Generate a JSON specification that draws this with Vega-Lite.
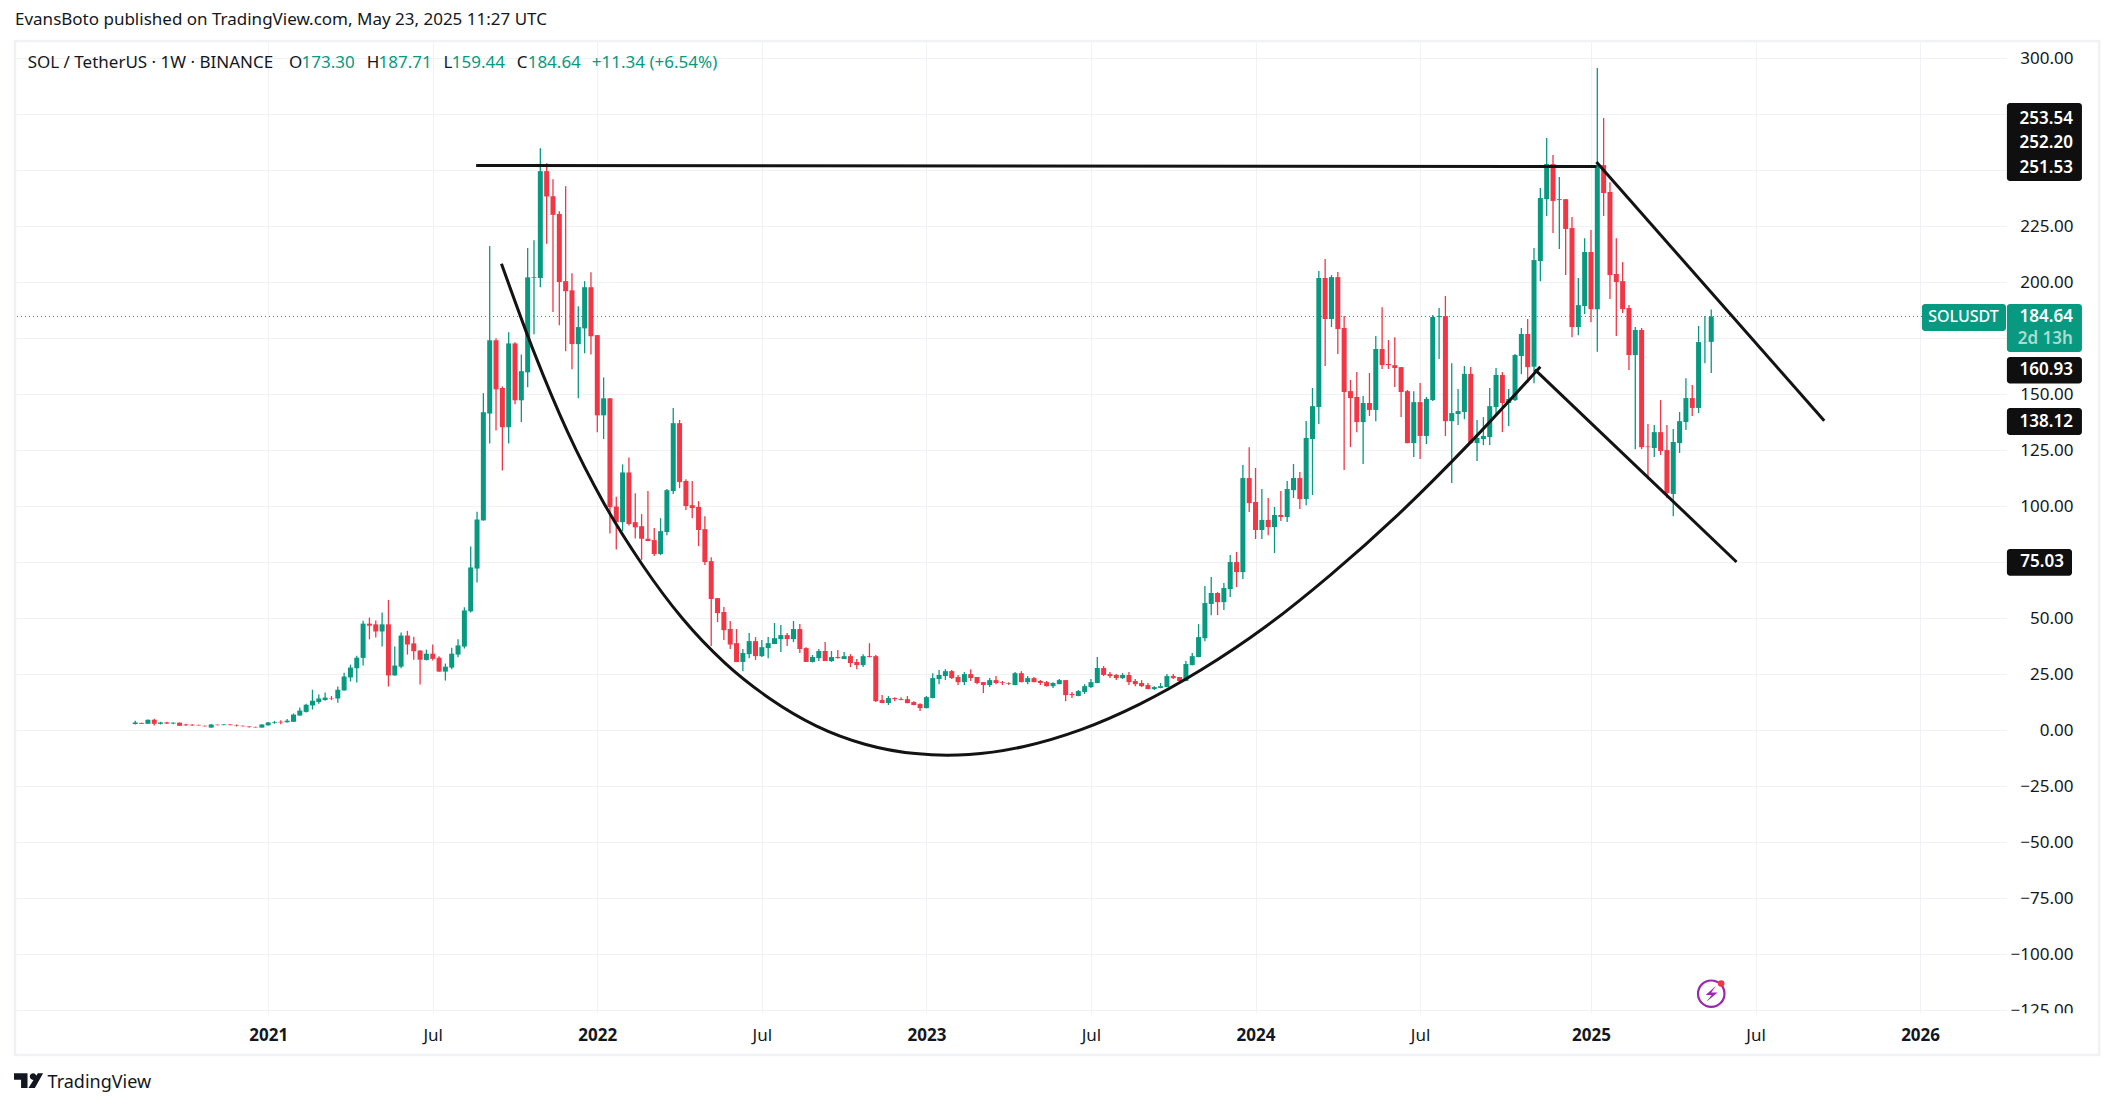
{
  "$schema": "https://vega.github.io/schema/vega-lite/v6.json",
  "width": 1991,
  "height": 972,
  "autosize": {"type": "none"},
  "padding": {"left": 15, "top": 41, "right": 108, "bottom": 95},
  "background": "white",
  "title": {"text": "EvansBoto published on TradingView.com, May 23, 2025 11:27 UTC", "anchor": "start", "frame": "group", "fontSize": 17, "fontWeight": "normal", "color": "#131722", "offset": 11},
  "config": {
    "font": "Noto Sans",
    "view": {"stroke": null},
    "text": {"font": "Noto Sans", "fontSize": 17, "color": "#131722"}
  },
  "datasets": {
    "one": [{}],
    "candles": [
      {"date":"2020-08-10","open":2.7,"high":4.2,"low":2.5,"close":3.4},
      {"date":"2020-08-17","open":3.2,"high":3.3,"low":2.7,"close":2.8},
      {"date":"2020-08-24","open":2.8,"high":4.7,"low":2.8,"close":4.6},
      {"date":"2020-08-31","open":4.6,"high":5.1,"low":2.0,"close":2.8},
      {"date":"2020-09-07","open":2.8,"high":3.7,"low":2.5,"close":3.4},
      {"date":"2020-09-14","open":3.4,"high":3.7,"low":2.7,"close":2.9},
      {"date":"2020-09-21","open":2.9,"high":3.4,"low":2.6,"close":3.3},
      {"date":"2020-09-28","open":3.3,"high":3.4,"low":1.9,"close":1.9},
      {"date":"2020-10-05","open":2.5,"high":2.8,"low":1.9,"close":2.1},
      {"date":"2020-10-12","open":2.4,"high":2.6,"low":1.9,"close":2.1},
      {"date":"2020-10-19","open":2.3,"high":2.4,"low":2.0,"close":2.1},
      {"date":"2020-10-26","open":1.9,"high":2.0,"low":1.6,"close":1.7},
      {"date":"2020-11-02","open":1.1,"high":2.6,"low":1.1,"close":2.5},
      {"date":"2020-11-09","open":2.4,"high":2.5,"low":2.1,"close":2.2},
      {"date":"2020-11-16","open":2.2,"high":2.6,"low":2.1,"close":2.5},
      {"date":"2020-11-23","open":2.5,"high":2.6,"low":2.1,"close":2.2},
      {"date":"2020-11-30","open":2.1,"high":2.5,"low":1.6,"close":1.9},
      {"date":"2020-12-07","open":1.9,"high":2.0,"low":1.6,"close":1.7},
      {"date":"2020-12-14","open":1.6,"high":1.7,"low":1.2,"close":1.3},
      {"date":"2020-12-21","open":1.4,"high":1.5,"low":1.1,"close":1.2},
      {"date":"2020-12-28","open":1.1,"high":2.6,"low":1.1,"close":2.5},
      {"date":"2021-01-04","open":2.1,"high":3.6,"low":2.0,"close":3.4},
      {"date":"2021-01-11","open":3.2,"high":4.1,"low":2.8,"close":3.5},
      {"date":"2021-01-18","open":3.7,"high":4.4,"low":2.6,"close":3.4},
      {"date":"2021-01-25","open":3.5,"high":4.9,"low":3.4,"close":4.2},
      {"date":"2021-02-01","open":3.7,"high":7.4,"low":3.6,"close":6.9},
      {"date":"2021-02-08","open":6.5,"high":10.1,"low":6.4,"close":8.7},
      {"date":"2021-02-15","open":8.1,"high":11.7,"low":7.8,"close":11.3},
      {"date":"2021-02-22","open":11.0,"high":18.0,"low":9.2,"close":13.1},
      {"date":"2021-03-01","open":12.5,"high":15.9,"low":11.8,"close":14.1},
      {"date":"2021-03-08","open":13.4,"high":16.8,"low":13.1,"close":14.5},
      {"date":"2021-03-15","open":14.3,"high":15.2,"low":13.4,"close":14.1},
      {"date":"2021-03-22","open":14.1,"high":19.4,"low":12.2,"close":18.0},
      {"date":"2021-03-29","open":17.7,"high":25.6,"low":17.5,"close":23.9},
      {"date":"2021-04-05","open":23.5,"high":29.2,"low":21.7,"close":27.9},
      {"date":"2021-04-12","open":27.6,"high":33.2,"low":21.2,"close":32.3},
      {"date":"2021-04-19","open":32.2,"high":48.8,"low":28.8,"close":47.5},
      {"date":"2021-04-26","open":47.5,"high":50.2,"low":40.5,"close":46.6},
      {"date":"2021-05-03","open":47.2,"high":48.9,"low":41.3,"close":44.0},
      {"date":"2021-05-10","open":44.0,"high":52.5,"low":37.3,"close":47.2},
      {"date":"2021-05-17","open":47.2,"high":58.1,"low":19.4,"close":24.4},
      {"date":"2021-05-24","open":24.4,"high":37.3,"low":24.3,"close":28.8},
      {"date":"2021-05-31","open":28.3,"high":43.5,"low":27.6,"close":42.2},
      {"date":"2021-06-07","open":42.2,"high":44.3,"low":33.7,"close":38.2},
      {"date":"2021-06-14","open":38.7,"high":41.7,"low":31.4,"close":35.2},
      {"date":"2021-06-21","open":35.5,"high":35.6,"low":20.3,"close":31.4},
      {"date":"2021-06-28","open":31.3,"high":35.9,"low":31.1,"close":34.1},
      {"date":"2021-07-05","open":34.1,"high":38.2,"low":31.1,"close":31.8},
      {"date":"2021-07-12","open":32.3,"high":32.9,"low":26.0,"close":26.1},
      {"date":"2021-07-19","open":26.1,"high":29.7,"low":22.1,"close":28.3},
      {"date":"2021-07-26","open":27.9,"high":36.7,"low":27.2,"close":34.1},
      {"date":"2021-08-02","open":33.7,"high":40.5,"low":32.5,"close":37.8},
      {"date":"2021-08-09","open":37.3,"high":54.8,"low":36.4,"close":53.4},
      {"date":"2021-08-16","open":53.0,"high":82.0,"low":52.5,"close":72.6},
      {"date":"2021-08-23","open":72.1,"high":97.5,"low":65.9,"close":94.0},
      {"date":"2021-08-30","open":93.6,"high":150.4,"low":93.5,"close":141.9},
      {"date":"2021-09-06","open":141.3,"high":216.1,"low":127.9,"close":174.0},
      {"date":"2021-09-13","open":174.0,"high":174.9,"low":133.7,"close":152.1},
      {"date":"2021-09-20","open":152.7,"high":153.4,"low":115.9,"close":135.2},
      {"date":"2021-09-27","open":135.2,"high":177.6,"low":127.9,"close":172.6},
      {"date":"2021-10-04","open":172.6,"high":173.1,"low":145.4,"close":147.2},
      {"date":"2021-10-11","open":147.2,"high":167.7,"low":137.5,"close":160.2},
      {"date":"2021-10-18","open":159.7,"high":215.2,"low":153.0,"close":202.1},
      {"date":"2021-10-25","open":201.8,"high":218.7,"low":176.7,"close":202.1},
      {"date":"2021-11-01","open":201.8,"high":259.7,"low":197.7,"close":249.5},
      {"date":"2021-11-08","open":249.5,"high":253.0,"low":217.1,"close":238.2},
      {"date":"2021-11-15","open":238.3,"high":245.9,"low":186.6,"close":230.0},
      {"date":"2021-11-22","open":230.4,"high":231.6,"low":180.7,"close":200.0},
      {"date":"2021-11-29","open":200.4,"high":242.8,"low":169.1,"close":195.9},
      {"date":"2021-12-06","open":196.3,"high":203.9,"low":161.1,"close":172.3},
      {"date":"2021-12-13","open":172.3,"high":189.2,"low":148.1,"close":179.9},
      {"date":"2021-12-20","open":179.3,"high":200.4,"low":168.2,"close":197.7},
      {"date":"2021-12-27","open":197.7,"high":204.4,"low":167.7,"close":175.8},
      {"date":"2022-01-03","open":176.3,"high":176.4,"low":132.9,"close":140.5},
      {"date":"2022-01-10","open":140.5,"high":157.4,"low":129.9,"close":148.1},
      {"date":"2022-01-17","open":148.1,"high":148.2,"low":87.8,"close":99.5},
      {"date":"2022-01-24","open":99.8,"high":104.2,"low":80.6,"close":92.8},
      {"date":"2022-01-31","open":92.8,"high":118.6,"low":88.9,"close":115.0},
      {"date":"2022-02-07","open":115.0,"high":121.7,"low":91.3,"close":92.0},
      {"date":"2022-02-14","open":92.8,"high":105.7,"low":85.5,"close":90.5},
      {"date":"2022-02-21","open":91.0,"high":96.4,"low":76.0,"close":85.4},
      {"date":"2022-02-28","open":85.4,"high":106.7,"low":84.3,"close":84.4},
      {"date":"2022-03-07","open":84.8,"high":90.2,"low":77.7,"close":78.6},
      {"date":"2022-03-14","open":78.6,"high":94.6,"low":78.1,"close":88.8},
      {"date":"2022-03-21","open":88.4,"high":107.6,"low":87.0,"close":107.1},
      {"date":"2022-03-28","open":106.7,"high":143.8,"low":105.4,"close":137.0},
      {"date":"2022-04-04","open":137.0,"high":138.4,"low":108.0,"close":110.7},
      {"date":"2022-04-11","open":111.2,"high":112.0,"low":98.2,"close":100.0},
      {"date":"2022-04-18","open":100.4,"high":111.2,"low":94.6,"close":99.1},
      {"date":"2022-04-25","open":99.6,"high":102.2,"low":82.1,"close":89.3},
      {"date":"2022-05-02","open":89.7,"high":95.5,"low":73.7,"close":75.0},
      {"date":"2022-05-09","open":75.4,"high":77.2,"low":37.5,"close":58.5},
      {"date":"2022-05-16","open":58.9,"high":59.0,"low":48.2,"close":52.2},
      {"date":"2022-05-23","open":52.7,"high":54.9,"low":40.2,"close":44.6},
      {"date":"2022-05-30","open":45.1,"high":48.7,"low":36.2,"close":38.2},
      {"date":"2022-06-06","open":38.8,"high":45.1,"low":30.3,"close":30.4},
      {"date":"2022-06-13","open":30.4,"high":36.2,"low":26.3,"close":34.4},
      {"date":"2022-06-20","open":33.9,"high":43.3,"low":32.1,"close":39.7},
      {"date":"2022-06-27","open":39.7,"high":41.5,"low":31.3,"close":33.0},
      {"date":"2022-07-04","open":33.0,"high":40.2,"low":32.6,"close":37.0},
      {"date":"2022-07-11","open":36.6,"high":41.5,"low":32.1,"close":38.8},
      {"date":"2022-07-18","open":38.4,"high":47.8,"low":38.4,"close":41.0},
      {"date":"2022-07-25","open":40.6,"high":46.9,"low":34.8,"close":42.4},
      {"date":"2022-08-01","open":42.4,"high":43.3,"low":37.5,"close":40.6},
      {"date":"2022-08-08","open":40.6,"high":48.7,"low":39.3,"close":45.1},
      {"date":"2022-08-15","open":45.1,"high":47.3,"low":34.4,"close":36.2},
      {"date":"2022-08-22","open":36.6,"high":37.0,"low":30.4,"close":30.4},
      {"date":"2022-08-29","open":30.4,"high":33.5,"low":30.2,"close":32.6},
      {"date":"2022-09-05","open":32.1,"high":36.2,"low":30.8,"close":35.3},
      {"date":"2022-09-12","open":35.3,"high":39.3,"low":30.8,"close":30.8},
      {"date":"2022-09-19","open":30.8,"high":35.3,"low":30.4,"close":32.6},
      {"date":"2022-09-26","open":32.6,"high":35.7,"low":32.0,"close":32.1},
      {"date":"2022-10-03","open":31.7,"high":34.8,"low":31.7,"close":33.0},
      {"date":"2022-10-10","open":33.0,"high":33.9,"low":28.1,"close":29.9},
      {"date":"2022-10-17","open":30.4,"high":31.7,"low":27.2,"close":29.0},
      {"date":"2022-10-24","open":29.0,"high":33.9,"low":28.1,"close":33.0},
      {"date":"2022-10-31","open":33.0,"high":38.8,"low":32.4,"close":32.6},
      {"date":"2022-11-07","open":33.0,"high":33.5,"low":12.5,"close":12.9},
      {"date":"2022-11-14","open":13.4,"high":15.6,"low":12.0,"close":12.1},
      {"date":"2022-11-21","open":12.1,"high":15.2,"low":11.2,"close":14.3},
      {"date":"2022-11-28","open":14.3,"high":14.7,"low":12.9,"close":13.8},
      {"date":"2022-12-05","open":13.8,"high":14.7,"low":13.3,"close":13.4},
      {"date":"2022-12-12","open":13.8,"high":15.2,"low":12.0,"close":12.0},
      {"date":"2022-12-19","open":12.5,"high":12.9,"low":11.1,"close":11.2},
      {"date":"2022-12-26","open":11.6,"high":12.0,"low":8.5,"close":9.8},
      {"date":"2023-01-02","open":9.8,"high":15.2,"low":9.7,"close":14.7},
      {"date":"2023-01-09","open":14.3,"high":25.4,"low":14.2,"close":23.2},
      {"date":"2023-01-16","open":22.8,"high":26.8,"low":20.5,"close":24.6},
      {"date":"2023-01-23","open":24.1,"high":27.2,"low":22.3,"close":26.3},
      {"date":"2023-01-30","open":26.3,"high":26.8,"low":22.8,"close":23.2},
      {"date":"2023-02-06","open":23.7,"high":24.6,"low":20.1,"close":21.4},
      {"date":"2023-02-13","open":21.4,"high":25.9,"low":20.1,"close":25.0},
      {"date":"2023-02-20","open":25.0,"high":27.2,"low":21.9,"close":23.2},
      {"date":"2023-02-27","open":23.7,"high":23.7,"low":20.5,"close":21.0},
      {"date":"2023-03-06","open":21.4,"high":21.4,"low":16.5,"close":20.1},
      {"date":"2023-03-13","open":20.1,"high":23.2,"low":19.2,"close":22.3},
      {"date":"2023-03-20","open":22.3,"high":24.1,"low":20.5,"close":21.0},
      {"date":"2023-03-27","open":21.4,"high":21.9,"low":20.1,"close":21.1},
      {"date":"2023-04-03","open":21.0,"high":21.4,"low":20.1,"close":20.7},
      {"date":"2023-04-10","open":20.1,"high":25.9,"low":20.0,"close":25.4},
      {"date":"2023-04-17","open":25.4,"high":26.3,"low":21.3,"close":21.4},
      {"date":"2023-04-24","open":21.4,"high":24.1,"low":20.5,"close":23.2},
      {"date":"2023-05-01","open":23.2,"high":23.7,"low":21.3,"close":21.4},
      {"date":"2023-05-08","open":21.9,"high":22.3,"low":20.1,"close":21.0},
      {"date":"2023-05-15","open":21.4,"high":21.9,"low":19.5,"close":19.6},
      {"date":"2023-05-22","open":19.6,"high":21.4,"low":18.8,"close":21.0},
      {"date":"2023-05-29","open":20.5,"high":22.8,"low":20.4,"close":22.3},
      {"date":"2023-06-05","open":22.3,"high":22.4,"low":12.9,"close":15.6},
      {"date":"2023-06-12","open":16.1,"high":17.0,"low":14.3,"close":15.6},
      {"date":"2023-06-19","open":15.2,"high":17.9,"low":15.1,"close":17.4},
      {"date":"2023-06-26","open":17.0,"high":20.5,"low":16.1,"close":19.6},
      {"date":"2023-07-03","open":19.2,"high":22.8,"low":18.8,"close":21.4},
      {"date":"2023-07-10","open":21.0,"high":32.6,"low":20.9,"close":27.7},
      {"date":"2023-07-17","open":27.7,"high":28.6,"low":24.1,"close":24.6},
      {"date":"2023-07-24","open":25.0,"high":25.9,"low":23.2,"close":24.1},
      {"date":"2023-07-31","open":24.6,"high":25.0,"low":22.3,"close":23.2},
      {"date":"2023-08-07","open":23.2,"high":25.4,"low":22.8,"close":24.6},
      {"date":"2023-08-14","open":24.6,"high":25.9,"low":20.1,"close":21.4},
      {"date":"2023-08-21","open":21.9,"high":22.8,"low":19.6,"close":20.5},
      {"date":"2023-08-28","open":21.0,"high":22.3,"low":19.2,"close":19.6},
      {"date":"2023-09-04","open":20.1,"high":21.0,"low":18.2,"close":18.3},
      {"date":"2023-09-11","open":18.3,"high":19.6,"low":17.9,"close":19.2},
      {"date":"2023-09-18","open":18.8,"high":21.0,"low":18.7,"close":19.6},
      {"date":"2023-09-25","open":19.2,"high":25.0,"low":19.1,"close":24.1},
      {"date":"2023-10-02","open":24.1,"high":25.0,"low":22.8,"close":23.2},
      {"date":"2023-10-09","open":23.7,"high":23.7,"low":21.4,"close":21.9},
      {"date":"2023-10-16","open":21.9,"high":30.8,"low":21.8,"close":29.5},
      {"date":"2023-10-23","open":29.0,"high":34.4,"low":28.9,"close":33.0},
      {"date":"2023-10-30","open":32.6,"high":47.3,"low":32.5,"close":41.5},
      {"date":"2023-11-06","open":41.0,"high":64.3,"low":39.7,"close":56.7},
      {"date":"2023-11-13","open":56.3,"high":68.3,"low":51.3,"close":61.2},
      {"date":"2023-11-20","open":61.2,"high":61.6,"low":51.3,"close":57.1},
      {"date":"2023-11-27","open":57.1,"high":65.6,"low":53.6,"close":63.4},
      {"date":"2023-12-04","open":62.9,"high":78.1,"low":59.4,"close":75.0},
      {"date":"2023-12-11","open":75.0,"high":79.5,"low":63.8,"close":70.5},
      {"date":"2023-12-18","open":70.5,"high":118.3,"low":67.4,"close":112.5},
      {"date":"2023-12-25","open":112.5,"high":126.3,"low":97.3,"close":101.3},
      {"date":"2024-01-01","open":101.8,"high":117.0,"low":85.3,"close":89.3},
      {"date":"2024-01-08","open":89.3,"high":107.6,"low":85.3,"close":93.8},
      {"date":"2024-01-15","open":93.8,"high":103.6,"low":87.0,"close":90.6},
      {"date":"2024-01-22","open":90.6,"high":99.6,"low":79.0,"close":96.0},
      {"date":"2024-01-29","open":96.0,"high":106.7,"low":93.3,"close":95.1},
      {"date":"2024-02-05","open":95.1,"high":111.2,"low":92.9,"close":107.6},
      {"date":"2024-02-12","open":107.1,"high":118.8,"low":103.6,"close":112.5},
      {"date":"2024-02-19","open":112.5,"high":115.2,"low":98.7,"close":103.1},
      {"date":"2024-02-26","open":103.1,"high":138.0,"low":100.4,"close":130.4},
      {"date":"2024-03-04","open":129.9,"high":152.7,"low":104.9,"close":144.6},
      {"date":"2024-03-11","open":144.2,"high":204.9,"low":136.6,"close":201.8},
      {"date":"2024-03-18","open":201.8,"high":210.3,"low":162.5,"close":183.5},
      {"date":"2024-03-25","open":183.5,"high":203.1,"low":179.9,"close":202.2},
      {"date":"2024-04-01","open":202.2,"high":204.5,"low":167.9,"close":179.0},
      {"date":"2024-04-08","open":179.5,"high":184.8,"low":116.1,"close":150.9},
      {"date":"2024-04-15","open":151.3,"high":156.3,"low":126.3,"close":148.2},
      {"date":"2024-04-22","open":148.7,"high":159.8,"low":133.0,"close":137.5},
      {"date":"2024-04-29","open":137.5,"high":149.1,"low":118.8,"close":146.0},
      {"date":"2024-05-06","open":146.0,"high":159.4,"low":140.2,"close":142.9},
      {"date":"2024-05-13","open":142.9,"high":175.9,"low":137.9,"close":170.1},
      {"date":"2024-05-20","open":170.1,"high":188.8,"low":161.2,"close":162.9},
      {"date":"2024-05-27","open":163.4,"high":174.1,"low":161.2,"close":162.9},
      {"date":"2024-06-03","open":162.9,"high":175.4,"low":153.1,"close":161.6},
      {"date":"2024-06-10","open":162.0,"high":162.1,"low":139.7,"close":150.9},
      {"date":"2024-06-17","open":151.3,"high":151.8,"low":128.0,"close":128.1},
      {"date":"2024-06-24","open":128.1,"high":151.3,"low":121.9,"close":146.4},
      {"date":"2024-07-01","open":146.4,"high":154.9,"low":121.0,"close":131.3},
      {"date":"2024-07-08","open":131.3,"high":148.7,"low":127.7,"close":147.8},
      {"date":"2024-07-15","open":147.3,"high":185.3,"low":146.9,"close":184.4},
      {"date":"2024-07-22","open":184.4,"high":188.4,"low":165.6,"close":184.8},
      {"date":"2024-07-29","open":184.8,"high":193.8,"low":131.3,"close":137.9},
      {"date":"2024-08-05","open":137.9,"high":163.8,"low":110.3,"close":141.5},
      {"date":"2024-08-12","open":141.1,"high":152.2,"low":136.2,"close":142.4},
      {"date":"2024-08-19","open":142.0,"high":162.5,"low":138.8,"close":159.0},
      {"date":"2024-08-26","open":159.0,"high":162.1,"low":127.7,"close":128.1},
      {"date":"2024-09-02","open":128.1,"high":138.4,"low":120.1,"close":130.4},
      {"date":"2024-09-09","open":129.9,"high":139.7,"low":127.2,"close":131.3},
      {"date":"2024-09-16","open":130.8,"high":152.7,"low":127.2,"close":144.6},
      {"date":"2024-09-23","open":144.2,"high":161.6,"low":140.6,"close":158.5},
      {"date":"2024-09-30","open":158.5,"high":159.8,"low":133.0,"close":146.0},
      {"date":"2024-10-07","open":146.0,"high":152.2,"low":135.7,"close":147.8},
      {"date":"2024-10-14","open":147.3,"high":167.9,"low":146.9,"close":167.4},
      {"date":"2024-10-21","open":167.0,"high":179.5,"low":158.9,"close":176.8},
      {"date":"2024-10-28","open":176.8,"high":183.5,"low":154.9,"close":162.0},
      {"date":"2024-11-04","open":162.2,"high":215.2,"low":154.8,"close":209.8},
      {"date":"2024-11-11","open":209.4,"high":242.0,"low":200.4,"close":237.5},
      {"date":"2024-11-18","open":237.0,"high":264.3,"low":229.5,"close":252.7},
      {"date":"2024-11-25","open":252.7,"high":256.7,"low":221.9,"close":236.2},
      {"date":"2024-12-02","open":236.6,"high":246.9,"low":214.7,"close":237.0},
      {"date":"2024-12-09","open":237.0,"high":237.0,"low":203.1,"close":223.7},
      {"date":"2024-12-16","open":224.1,"high":229.0,"low":175.4,"close":179.9},
      {"date":"2024-12-23","open":179.9,"high":201.8,"low":176.3,"close":189.7},
      {"date":"2024-12-30","open":189.3,"high":219.6,"low":185.7,"close":213.4},
      {"date":"2025-01-06","open":213.4,"high":223.2,"low":182.1,"close":187.9},
      {"date":"2025-01-13","open":187.9,"high":295.5,"low":168.9,"close":252.2},
      {"date":"2025-01-20","open":252.2,"high":273.2,"low":229.5,"close":239.7},
      {"date":"2025-01-27","open":240.2,"high":244.6,"low":192.4,"close":203.1},
      {"date":"2025-02-03","open":203.6,"high":219.6,"low":175.9,"close":200.0},
      {"date":"2025-02-10","open":200.4,"high":208.9,"low":186.2,"close":187.9},
      {"date":"2025-02-17","open":188.4,"high":189.7,"low":160.7,"close":167.4},
      {"date":"2025-02-24","open":167.4,"high":179.9,"low":125.4,"close":178.6},
      {"date":"2025-03-03","open":178.6,"high":179.5,"low":125.4,"close":126.3},
      {"date":"2025-03-10","open":126.6,"high":136.6,"low":112.0,"close":126.3},
      {"date":"2025-03-17","open":125.9,"high":136.2,"low":121.9,"close":133.0},
      {"date":"2025-03-24","open":133.0,"high":147.3,"low":122.8,"close":124.6},
      {"date":"2025-03-31","open":125.0,"high":136.2,"low":103.6,"close":105.8},
      {"date":"2025-04-07","open":105.4,"high":134.4,"low":95.5,"close":128.6},
      {"date":"2025-04-14","open":128.1,"high":142.0,"low":123.7,"close":137.9},
      {"date":"2025-04-21","open":137.5,"high":157.1,"low":133.9,"close":148.2},
      {"date":"2025-04-28","open":148.2,"high":154.0,"low":140.2,"close":143.8},
      {"date":"2025-05-05","open":143.8,"high":180.4,"low":141.5,"close":173.2},
      {"date":"2025-05-12","open":173.2,"high":184.8,"low":163.8,"close":173.3},
      {"date":"2025-05-19","open":173.3,"high":187.71,"low":159.44,"close":184.64}
    ],
    "drawings": [
      {"line":"resistance","date":"2021-08-22","price":252.0},
      {"line":"resistance","date":"2025-01-12","price":251.53},
      {"line":"upper","date":"2025-01-12","price":253.54},
      {"line":"upper","date":"2025-09-21","price":138.12},
      {"line":"lower","date":"2024-11-05","price":160.93},
      {"line":"lower","date":"2025-06-16","price":75.03}
    ],
    "arc": [
      {"date":"2021-09-19","price":208.2},
      {"date":"2021-10-25","price":168.7},
      {"date":"2021-12-01","price":133.2},
      {"date":"2022-01-10","price":101.5},
      {"date":"2022-02-22","price":73.7},
      {"date":"2022-04-07","price":49.9},
      {"date":"2022-05-24","price":30.0},
      {"date":"2022-07-13","price":14.0},
      {"date":"2022-09-02","price":1.9},
      {"date":"2022-10-26","price":-6.3},
      {"date":"2022-12-21","price":-10.5},
      {"date":"2023-01-25","price":-11.2},
      {"date":"2023-02-18","price":-10.9},
      {"date":"2023-04-20","price":-7.3},
      {"date":"2023-06-22","price":0.2},
      {"date":"2023-08-26","price":11.6},
      {"date":"2023-11-02","price":26.9},
      {"date":"2024-01-12","price":46.1},
      {"date":"2024-03-24","price":69.3},
      {"date":"2024-06-07","price":96.3},
      {"date":"2024-08-23","price":127.3},
      {"date":"2024-11-11","price":162.2}
    ],
    "blackBoxes": [
      {"start":"2026-04-11","end":"2026-07-03","top":279.9,"bottom":245.1},
      {"start":"2026-04-11","end":"2026-07-03","top":166.5,"bottom":154.7},
      {"start":"2026-04-11","end":"2026-07-03","top":143.8,"bottom":131.7},
      {"start":"2026-04-11","end":"2026-06-22","top":80.8,"bottom":68.9}
    ],
    "greenBoxes": [
      {"start":"2026-01-07","end":"2026-04-10","top":190.2,"bottom":178.1},
      {"start":"2026-04-11","end":"2026-07-03","top":190.2,"bottom":168.8}
    ],
    "boxLabels": [
      {"label":"253.54","price":273.0,"date":"2026-06-23"},
      {"label":"252.20","price":262.1,"date":"2026-06-23"},
      {"label":"251.53","price":251.1,"date":"2026-06-23"},
      {"label":"184.64","price":184.2,"date":"2026-06-23"},
      {"label":"160.93","price":160.6,"date":"2026-06-23"},
      {"label":"138.12","price":137.7,"date":"2026-06-23"},
      {"label":"75.03","price":74.9,"date":"2026-06-13"}
    ],
    "headerDark": [
      {"label":"SOL / TetherUS · 1W · BINANCE","date":"2020-04-13"},
      {"label":"O","date":"2021-01-27"},
      {"label":"H","date":"2021-04-23"},
      {"label":"L","date":"2021-07-17"},
      {"label":"C","date":"2021-10-06"}
    ],
    "headerGreen": [
      {"label":"173.30","date":"2021-02-10"},
      {"label":"187.71","date":"2021-05-06"},
      {"label":"159.44","date":"2021-07-26"},
      {"label":"184.64","date":"2021-10-18"},
      {"label":"+11.34 (+6.54%)","date":"2021-12-28"}
    ]
  },
  "layer": [
    {
      "data": {"name": "candles"},
      "mark": {"type": "rule", "strokeWidth": 1.3},
      "encoding": {
        "x": {
          "field": "date",
          "type": "temporal",
          "title": null,
          "scale": {"domain": ["2020-03-30", "2026-04-10"], "nice": false, "padding": 0},
          "axis": {
            "values": [
              {"utc": true, "year": 2021, "month": 1, "date": 4},
              {"utc": true, "year": 2021, "month": 7, "date": 5},
              {"utc": true, "year": 2022, "month": 1, "date": 3},
              {"utc": true, "year": 2022, "month": 7, "date": 4},
              {"utc": true, "year": 2023, "month": 1, "date": 2},
              {"utc": true, "year": 2023, "month": 7, "date": 3},
              {"utc": true, "year": 2024, "month": 1, "date": 1},
              {"utc": true, "year": 2024, "month": 7, "date": 1},
              {"utc": true, "year": 2025, "month": 1, "date": 6},
              {"utc": true, "year": 2025, "month": 7, "date": 7},
              {"utc": true, "year": 2026, "month": 1, "date": 5}
            ],
            "labelExpr": "utcmonth(datum.value) == 0 ? utcFormat(datum.value, '%Y') : 'Jul'",
            "labelFontWeight": {"expr": "utcmonth(datum.value) == 0 ? 700 : 400"},
            "labelFontSize": 17,
            "labelColor": "#131722",
            "labelPadding": 22,
            "labelBaseline": "middle",
            "labelAngle": 0,
            "labelOverlap": false,
            "labelFlush": false,
            "ticks": false,
            "domain": false,
            "grid": true,
            "gridColor": "#f1f2f5",
            "gridWidth": 1
          }
        },
        "y": {
          "field": "low",
          "type": "quantitative",
          "title": null,
          "scale": {"domain": [-126.3, 307.6], "nice": false, "zero": false},
          "axis": {
            "orient": "right",
            "values": [300, 275, 250, 225, 200, 175, 150, 125, 100, 75, 50, 25, 0, -25, -50, -75, -100, -125],
            "labelExpr": "indexof([275, 250, 175, 75], datum.value) >= 0 ? '' : replace(format(datum.value, '.2f'), '-', '−')",
            "labelFontSize": 17,
            "labelColor": "#131722",
            "labelAlign": "right",
            "labelBaseline": "middle",
            "labelPadding": 67,
            "labelOverlap": false,
            "labelFlush": false,
            "ticks": false,
            "domain": false,
            "grid": true,
            "gridColor": "#f1f2f5",
            "gridWidth": 1
          }
        },
        "y2": {"field": "high"},
        "color": {"condition": {"test": "datum.close >= datum.open", "value": "#089981"}, "value": "#f23645"}
      }
    },
    {
      "data": {"values": [{"start":"2020-03-30","end":"2026-07-22"}]},
      "mark": {"type": "rect", "filled": false, "stroke": "#f1f2f5", "strokeWidth": 2.5},
      "encoding": {
        "x": {"field": "start", "type": "temporal"},
        "x2": {"field": "end"},
        "y": {"datum": 307.6},
        "y2": {"datum": -145}
      }
    },
    {
      "data": {"name": "one"},
      "mark": {"type": "rule", "color": "#089981", "strokeWidth": 1, "strokeDash": [1, 3]},
      "encoding": {"y": {"datum": 184.64}}
    },
    {
      "data": {"name": "candles"},
      "mark": {"type": "bar", "width": 5},
      "encoding": {
        "x": {"field": "date", "type": "temporal"},
        "y": {"field": "open", "type": "quantitative"},
        "y2": {"field": "close"},
        "color": {"condition": {"test": "datum.close >= datum.open", "value": "#089981"}, "value": "#f23645"}
      }
    },
    {
      "data": {"name": "arc"},
      "mark": {"type": "line", "color": "#131313", "strokeWidth": 3, "interpolate": "monotone"},
      "encoding": {
        "x": {"field": "date", "type": "temporal"},
        "y": {"field": "price", "type": "quantitative"}
      }
    },
    {
      "data": {"name": "drawings"},
      "mark": {"type": "line", "color": "#131313", "strokeWidth": 3},
      "encoding": {
        "x": {"field": "date", "type": "temporal"},
        "y": {"field": "price", "type": "quantitative"},
        "detail": {"field": "line"}
      }
    },
    {
      "data": {"values": [{"start":"2026-04-11","end":"2026-07-03"}]},
      "mark": {"type": "rect", "color": "white"},
      "encoding": {
        "x": {"field": "start", "type": "temporal"},
        "x2": {"field": "end"},
        "y": {"datum": -126.4},
        "y2": {"datum": -133}
      }
    },
    {
      "data": {"name": "blackBoxes"},
      "mark": {"type": "rect", "color": "#0f0f0f", "cornerRadius": 3},
      "encoding": {
        "x": {"field": "start", "type": "temporal"},
        "x2": {"field": "end"},
        "y": {"field": "top", "type": "quantitative"},
        "y2": {"field": "bottom"}
      }
    },
    {
      "data": {"name": "greenBoxes"},
      "mark": {"type": "rect", "color": "#089981", "cornerRadius": 3},
      "encoding": {
        "x": {"field": "start", "type": "temporal"},
        "x2": {"field": "end"},
        "y": {"field": "top", "type": "quantitative"},
        "y2": {"field": "bottom"}
      }
    },
    {
      "data": {"name": "boxLabels"},
      "mark": {"type": "text", "align": "right", "baseline": "middle", "color": "white", "fontWeight": 600},
      "encoding": {
        "x": {"field": "date", "type": "temporal"},
        "y": {"field": "price", "type": "quantitative"},
        "text": {"field": "label"}
      }
    },
    {
      "data": {"values": [{"label":"2d 13h","date":"2026-06-23"}]},
      "mark": {"type": "text", "align": "right", "baseline": "middle", "color": "#a8dccf", "fontWeight": 600},
      "encoding": {
        "x": {"field": "date", "type": "temporal"},
        "y": {"datum": 174.7},
        "text": {"field": "label"}
      }
    },
    {
      "data": {"values": [{"label":"SOLUSDT","date":"2026-02-22"}]},
      "mark": {"type": "text", "align": "center", "baseline": "middle", "color": "white", "fontWeight": 500, "fontSize": 16},
      "encoding": {
        "x": {"field": "date", "type": "temporal"},
        "y": {"datum": 184.2},
        "text": {"field": "label"}
      }
    },
    {
      "data": {"name": "headerDark"},
      "mark": {"type": "text", "align": "left", "baseline": "middle", "fontSize": 17},
      "encoding": {
        "x": {"field": "date", "type": "temporal"},
        "y": {"datum": 297.6},
        "text": {"field": "label"}
      }
    },
    {
      "data": {"name": "headerGreen"},
      "mark": {"type": "text", "align": "left", "baseline": "middle", "fontSize": 17, "color": "#089981"},
      "encoding": {
        "x": {"field": "date", "type": "temporal"},
        "y": {"datum": 297.6},
        "text": {"field": "label"}
      }
    },
    {
      "data": {"values": [{"label":"TradingView","date":"2020-05-05"}]},
      "mark": {"type": "text", "align": "left", "baseline": "middle", "fontSize": 18},
      "encoding": {
        "x": {"field": "date", "type": "temporal"},
        "y": {"datum": -157.5},
        "text": {"field": "label"}
      }
    },
    {
      "data": {"values": [{"date":"2020-04-14"}]},
      "mark": {
        "type": "point",
        "filled": true,
        "color": "#131722",
        "opacity": 1,
        "size": 900,
        "shape": "M-0.97,-0.49 H-0.07 V0.49 H-0.5 V-0.06 H-0.97 Z M0.08,-0.27 A0.22,0.22 0 1 1 0.52,-0.27 A0.22,0.22 0 1 1 0.08,-0.27 Z M0.62,-0.49 H0.97 L0.42,0.49 H-0.01 Z"
      },
      "encoding": {
        "x": {"field": "date", "type": "temporal"},
        "y": {"datum": -156.5}
      }
    },
    {
      "data": {"values": [{"date":"2025-05-19"}]},
      "mark": {"type": "point", "shape": "circle", "filled": false, "stroke": "#9c27b0", "strokeWidth": 2.2, "opacity": 1, "size": 700},
      "encoding": {
        "x": {"field": "date", "type": "temporal"},
        "y": {"datum": -117.7}
      }
    },
    {
      "data": {"values": [{"date":"2025-05-19"}]},
      "mark": {
        "type": "point",
        "filled": true,
        "color": "#9c27b0",
        "opacity": 1,
        "size": 256,
        "shape": "M0.6,-1 L-0.7,0.15 H0.05 L-0.6,1 L0.8,-0.15 H0 Z"
      },
      "encoding": {
        "x": {"field": "date", "type": "temporal"},
        "y": {"datum": -117.7}
      }
    },
    {
      "data": {"values": [{"date":"2025-05-30"}]},
      "mark": {"type": "point", "shape": "circle", "filled": true, "color": "#f23645", "opacity": 1, "size": 43},
      "encoding": {
        "x": {"field": "date", "type": "temporal"},
        "y": {"datum": -113.1}
      }
    }
  ]
}
